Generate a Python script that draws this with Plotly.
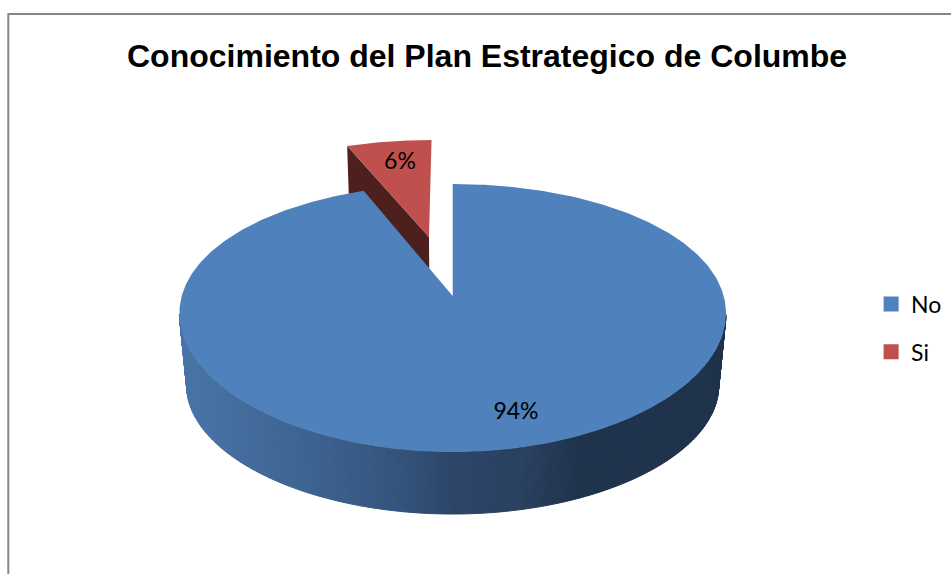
import numpy as np
import plotly.graph_objects as go

categories = ["No", "Si"]
values = [94, 6]
colors = ["#4F81BD", "#C0504D"]
title = "Conocimiento del Plan Estrategico de Columbe"

W, H = 951, 574
X0, Y0 = 452.7, 296.0
B, A, KX, KY = 271.0, 130.4, 0.13, 0.164
B2, A2, Y1 = 263.7, 120.4, 370.0
EXPLODE = 0.497


def top(u, v):
    return X0 + B * u / (1 + KX * v), Y0 - A * v / (1 + KY * v)


def low(u, v):
    return X0 + B2 * u / (1 + KX * v), Y1 - A2 * v / (1 + KY * v)


def side_color(x):
    xs = [187, 300, 400, 450, 520, 575, 730]
    r = [72, 62, 53, 45, 42, 32, 31]
    g = [116, 101, 84, 70, 65, 52, 50]
    b = [167, 147, 124, 105, 96, 77, 75]
    return "rgb(%d,%d,%d)" % (np.interp(x, xs, r), np.interp(x, xs, g), np.interp(x, xs, b))


total = sum(values)
no_end = 2 * np.pi * values[0] / total
theta_no = np.linspace(0, no_end, 400)
fig = go.Figure()


def poly(x, y, color, line=None):
    fig.add_trace(go.Scatter(
        x=list(x), y=list(y), mode="lines", fill="toself", fillcolor=color,
        line=dict(color=line or color, width=1 if line else 0),
        hoverinfo="skip", showlegend=False))


# exploded slice
si_span = 2 * np.pi * values[1] / total
mid = no_end + si_span / 2
ex_u, ex_v = EXPLODE * np.sin(mid), EXPLODE * np.cos(mid)
th_si = np.linspace(no_end, 2 * np.pi, 40)
u_si = np.sin(th_si) + ex_u
v_si = np.cos(th_si) + ex_v
cx, cy = top(u_si[0], v_si[0])
ax, ay = top(ex_u, ex_v)
lx, ly = low(u_si[0], v_si[0])
alx, aly = low(ex_u, ex_v)
poly([cx, ax, alx, lx, cx], [cy, ay, aly, ly, cy], "#4D1F1D")
sx, sy = top(u_si, v_si)
poly(list(sx) + [ax, sx[0]], list(sy) + [ay, sy[0]], colors[1])

# front wall of the large slice, shaded strip by strip
edges = np.radians(np.arange(98, 263, 0.75))
for a, b in zip(edges[:-1], edges[1:]):
    th = np.array([a, b])
    tx, ty = top(np.sin(th), np.cos(th))
    bx, by = low(np.sin(th), np.cos(th))
    c = side_color((tx.mean() + bx.mean()) / 2)
    poly([tx[0], tx[1], bx[1], bx[0], tx[0]], [ty[0], ty[1], by[1], by[0], ty[0]], c, line=c)

# top face of the large slice
nx, ny = top(np.sin(theta_no), np.cos(theta_no))
poly(list(nx) + [X0, nx[0]], list(ny) + [Y0, ny[0]], colors[0])

# value labels
fig.add_trace(go.Scatter(
    x=[516, 400], y=[413, 163], mode="text",
    text=[f"{v}%" for v in values],
    textfont=dict(family="Lato", size=23, color="#000000"),
    hoverinfo="skip", showlegend=False))

# legend entries
for name, col in zip(categories, colors):
    fig.add_trace(go.Scatter(
        x=[None], y=[None], mode="markers", name=name, legendgroup=name,
        marker=dict(symbol="square", size=15, color=col)))

fig.update_layout(
    width=W, height=H, margin=dict(l=0, r=0, t=0, b=0),
    paper_bgcolor="white", plot_bgcolor="white",
    xaxis=dict(range=[0, W], visible=False, fixedrange=True),
    yaxis=dict(range=[H, 0], visible=False, fixedrange=True),
    legend=dict(x=0.916, y=0.4286, xanchor="left", yanchor="middle",
                font=dict(family="Lato", size=23, color="#000000"),
                tracegroupgap=15, bgcolor="rgba(0,0,0,0)", itemclick=False),
    annotations=[dict(x=487, y=56, xref="x", yref="y", text=f"<b>{title}</b>",
                      showarrow=False,
                      font=dict(family="Liberation Sans", size=32, color="#000000"))],
    shapes=[
        dict(type="line", x0=8, x1=W, y0=14, y1=14, line=dict(color="#868686", width=2), layer="below"),
        dict(type="line", x0=8.3, x1=8.3, y0=13, y1=H, line=dict(color="#868686", width=2), layer="below"),
    ],
)
fig.write_html("out.html", config={"displayModeBar": False},
               post_script="document.body.style.margin='0';document.body.style.overflow='hidden';")
